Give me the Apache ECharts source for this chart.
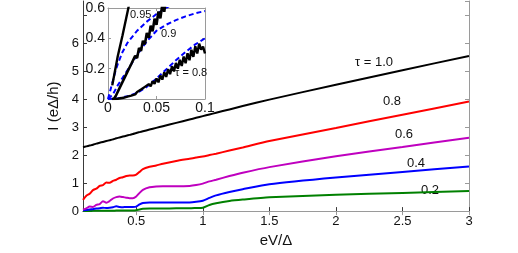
<!DOCTYPE html>
<html><head><meta charset="utf-8">
<script src="https://cdn.jsdelivr.net/npm/echarts@6/dist/echarts.min.js"></script>
<style>html,body{margin:0;padding:0;background:#fff}#c{width:518px;height:253px}</style>
</head><body><div id="c"></div>
<script>
// ---- main panel data ----
const biasV = [0.1,0.125,0.15,0.175,0.2,0.225,0.25,0.275,0.3,0.325,0.35,0.375,0.4,0.425,0.45,0.475,0.5,0.525,0.55,0.6,0.65,0.7,0.8,0.9,0.95,1.0,1.05,1.1,1.2,1.3,1.5,2.0,2.5,3.0];
const curTau10 = [2.28,2.31,2.34,2.37,2.41,2.44,2.47,2.50,2.53,2.56,2.60,2.63,2.66,2.69,2.72,2.75,2.79,2.82,2.85,2.91,2.97,3.03,3.15,3.27,3.33,3.39,3.45,3.51,3.63,3.75,3.98,4.51,5.03,5.54];
const curTau08 = [0.40,0.55,0.62,0.75,0.80,0.90,0.93,1.02,1.01,1.08,1.12,1.18,1.21,1.25,1.27,1.27,1.30,1.40,1.50,1.58,1.63,1.69,1.79,1.87,1.91,1.95,2.00,2.05,2.16,2.27,2.50,2.97,3.44,3.91];
const curTau06 = [0.05,0.10,0.16,0.15,0.22,0.25,0.35,0.30,0.36,0.45,0.50,0.52,0.50,0.48,0.46,0.46,0.52,0.65,0.76,0.85,0.88,0.89,0.89,0.90,0.93,0.98,1.06,1.12,1.25,1.37,1.57,1.96,2.29,2.62];
const curTau04 = [0.03,0.04,0.06,0.07,0.09,0.10,0.12,0.11,0.12,0.14,0.17,0.15,0.14,0.15,0.15,0.15,0.16,0.24,0.29,0.31,0.31,0.31,0.31,0.31,0.33,0.37,0.47,0.56,0.68,0.78,0.96,1.20,1.40,1.59];
const curTau02 = [0.00,0.00,0.00,0.01,0.01,0.01,0.01,0.01,0.01,0.01,0.02,0.02,0.02,0.02,0.02,0.02,0.03,0.06,0.08,0.09,0.09,0.09,0.10,0.10,0.11,0.12,0.22,0.28,0.36,0.41,0.49,0.58,0.65,0.72];
const mainXTicks = [0.5,1,1.5,2,2.5,3];
const mainXTickLabels = ['0.5','1','1.5','2','2.5','3'];
const mainYTickLabels = ['0','1','2','3','4','5','6'];
const curveLabels = ['\u03c4 = 1.0','0.8','0.6','0.4','0.2'];

// ---- inset data ----
const insetA_V = [0.0044,0.010,0.015,0.021,0.023];
const insetA_I = [0.09,0.28,0.42,0.60,0.66];
const insetB_V = [0.006,0.008,0.010,0.012,0.014,0.016,0.018,0.020,0.022,0.024,0.026,0.028,0.030,0.032,0.034,0.036,0.038,0.040,0.042,0.044,0.046,0.048,0.050,0.052,0.054,0.056,0.058,0.060];
const insetB_I = [0.000,0.020,0.033,0.073,0.080,0.126,0.128,0.179,0.175,0.231,0.222,0.284,0.270,0.337,0.317,0.384,0.360,0.436,0.403,0.483,0.446,0.530,0.489,0.577,0.532,0.624,0.575,0.670];
const insetC_V = [0.004,0.010,0.016,0.020,0.022,0.024,0.026,0.028,0.030,0.032,0.034,0.036,0.038,0.040,0.042,0.044,0.046,0.048,0.050,0.052,0.054,0.056,0.058,0.060,0.062,0.064,0.066,0.068,0.070,0.072,0.074,0.076,0.078,0.080,0.082,0.084,0.086,0.088,0.090,0.092,0.094,0.096,0.098,0.100];
const insetC_I = [0.000,0.002,0.008,0.016,0.024,0.022,0.034,0.030,0.046,0.042,0.062,0.054,0.080,0.068,0.098,0.084,0.118,0.100,0.135,0.110,0.155,0.128,0.176,0.146,0.196,0.164,0.216,0.182,0.238,0.200,0.258,0.218,0.280,0.236,0.302,0.256,0.325,0.278,0.348,0.300,0.365,0.325,0.345,0.300];
const dash95_V = [0,0.0025,0.005,0.0075,0.01,0.015,0.02,0.03,0.04,0.05,0.06,0.065];
const dash95_I = [0,0.06,0.12,0.18,0.23,0.31,0.37,0.45,0.51,0.56,0.60,0.62];
const dash90_V = [0,0.005,0.01,0.02,0.03,0.04,0.05,0.06,0.07,0.08,0.09,0.1];
const dash90_I = [0,0.03,0.09,0.19,0.29,0.38,0.45,0.49,0.52,0.545,0.565,0.58];
const dash80_V = [0,0.01,0.02,0.03,0.04,0.05,0.06,0.07,0.08,0.09,0.1];
const dash80_I = [0,0.004,0.018,0.04,0.08,0.135,0.195,0.255,0.31,0.36,0.40];
const insetXTickLabels = ['0','0.05','0.1'];
const insetYTickLabels = ['0','0.2','0.4','0.6'];
const insetLabels = ['0.95','0.9','\u03c4 = 0.8'];

const FONT = "'Liberation Sans', Arial, Helvetica, sans-serif";
const pair = (xs, ys) => xs.map((x, i) => [x, ys[i]]);
const fmtFrom = (labels) => (v) => { const s = String(+v.toFixed(4)); return labels.includes(s) ? s : ''; };

const dark = '#3a3a3a', light = '#9a9a9a';
function mainLine(data, color) {
  return { type: 'line', xAxisIndex: 0, yAxisIndex: 0, data, showSymbol: false, smooth: 0.2,
    lineStyle: { color, width: 2 }, itemStyle: { color }, silent: true, animation: false };
}
function insetLine(data, color, width, dashed) {
  return { type: 'line', xAxisIndex: 2, yAxisIndex: 2, data, showSymbol: false, smooth: false,
    lineStyle: { color, width, type: dashed ? [5, 3] : 'solid' }, itemStyle: { color }, silent: true, animation: false, clip: true };
}

const chart = echarts.init(document.getElementById('c'), null, { renderer: 'canvas' });
chart.setOption({
  animation: false,
  backgroundColor: '#fff',
  textStyle: { fontFamily: FONT },
  grid: [
    { left: 83, top: 1, width: 386, height: 222 },
    { left: 108, top: 8, width: 97, height: 91, show: true, backgroundColor: '#fff', borderWidth: 0 }
  ],
  xAxis: [
    { type: 'value', gridIndex: 0, position: 'bottom', min: 0.1, max: 3,
      name: 'eV/\u0394', nameLocation: 'middle', nameGap: 15,
      nameTextStyle: { fontSize: 15, color: '#111', fontFamily: FONT },
      axisLine: { lineStyle: { color: dark, width: 1 } },
      axisTick: { inside: true, length: 4, customValues: mainXTicks, lineStyle: { color: dark } },
      axisLabel: { customValues: mainXTicks, formatter: fmtFrom(mainXTickLabels), fontSize: 13, color: '#111', margin: 4, fontFamily: FONT },
      splitLine: { show: false } },
    { type: 'value', gridIndex: 0, position: 'top', min: 0.1, max: 3,
      axisLine: { lineStyle: { color: light, width: 1 } },
      axisTick: { inside: true, length: 4, customValues: mainXTicks, lineStyle: { color: light } },
      axisLabel: { show: false }, splitLine: { show: false } },
    { type: 'value', gridIndex: 1, position: 'bottom', min: 0, max: 0.1, interval: 0.05,
      axisLine: { onZero: false, lineStyle: { color: light, width: 1 } },
      axisTick: { inside: true, length: 3, lineStyle: { color: light } },
      axisLabel: { formatter: fmtFrom(insetXTickLabels), fontSize: 14, color: '#111', margin: 2, fontFamily: FONT },
      splitLine: { show: false } },
    { type: 'value', gridIndex: 1, position: 'top', min: 0, max: 0.1, interval: 0.05,
      axisLine: { onZero: false, lineStyle: { color: light, width: 1 } },
      axisTick: { inside: true, length: 3, lineStyle: { color: light } },
      axisLabel: { show: false }, splitLine: { show: false } }
  ],
  yAxis: [
    { type: 'value', gridIndex: 0, position: 'left', min: 0, max: 7.5, interval: 1,
      name: 'I (e\u0394/h)', nameLocation: 'middle', nameGap: 13, nameRotate: 90,
      nameTextStyle: { fontSize: 15, color: '#111', fontFamily: FONT },
      axisLine: { lineStyle: { color: dark, width: 1 } },
      axisTick: { inside: true, length: 4, lineStyle: { color: dark } },
      axisLabel: { formatter: fmtFrom(mainYTickLabels), fontSize: 13, color: '#111', margin: 4, showMaxLabel: false, fontFamily: FONT },
      splitLine: { show: false } },
    { type: 'value', gridIndex: 0, position: 'right', min: 0, max: 7.5, interval: 1,
      axisLine: { lineStyle: { color: light, width: 1 } },
      axisTick: { inside: true, length: 4, lineStyle: { color: light } },
      axisLabel: { show: false }, splitLine: { show: false } },
    { type: 'value', gridIndex: 1, position: 'left', min: 0, max: 0.6, interval: 0.2,
      axisLine: { onZero: false, lineStyle: { color: light, width: 1 } },
      axisTick: { inside: true, length: 3, lineStyle: { color: light } },
      axisLabel: { formatter: fmtFrom(insetYTickLabels), fontSize: 14, color: '#111', margin: 3, fontFamily: FONT },
      splitLine: { show: false } },
    { type: 'value', gridIndex: 1, position: 'right', min: 0, max: 0.6, interval: 0.2,
      axisLine: { onZero: false, lineStyle: { color: light, width: 1 } },
      axisTick: { inside: true, length: 3, lineStyle: { color: light } },
      axisLabel: { show: false }, splitLine: { show: false } }
  ],
  series: [
    mainLine(pair(biasV, curTau02), '#008000'),
    mainLine(pair(biasV, curTau04), '#0000ff'),
    mainLine(pair(biasV, curTau06), '#bf00bf'),
    mainLine(pair(biasV, curTau08), '#ff0000'),
    mainLine(pair(biasV, curTau10), '#000000'),
    insetLine(pair(dash95_V, dash95_I), '#0000ff', 2, true),
    insetLine(pair(dash90_V, dash90_I), '#0000ff', 2, true),
    insetLine(pair(dash80_V, dash80_I), '#0000ff', 2, true),
    insetLine(pair(insetA_V, insetA_I), '#000000', 2.4, false),
    insetLine(pair(insetB_V, insetB_I), '#000000', 2.6, false),
    insetLine(pair(insetC_V, insetC_I), '#000000', 2.4, false)
  ],
  graphic: [
    { type: 'text', left: 355, top: 56, style: { text: curveLabels[0], font: '13px ' + FONT, fill: '#111' } },
    { type: 'text', left: 383, top: 95, style: { text: curveLabels[1], font: '13px ' + FONT, fill: '#111' } },
    { type: 'text', left: 395, top: 128, style: { text: curveLabels[2], font: '13px ' + FONT, fill: '#111' } },
    { type: 'text', left: 407, top: 157, style: { text: curveLabels[3], font: '13px ' + FONT, fill: '#111' } },
    { type: 'text', left: 421, top: 184, style: { text: curveLabels[4], font: '13px ' + FONT, fill: '#111' } },
    { type: 'text', left: 130, top: 9, z: 100, style: { text: insetLabels[0], font: '11px ' + FONT, fill: '#111' } },
    { type: 'text', left: 161, top: 28, z: 100, style: { text: insetLabels[1], font: '11px ' + FONT, fill: '#111' } },
    { type: 'text', left: 175, top: 67, z: 100, style: { text: insetLabels[2], font: '11px ' + FONT, fill: '#111' } }
  ]
});
</script>
</body></html>
